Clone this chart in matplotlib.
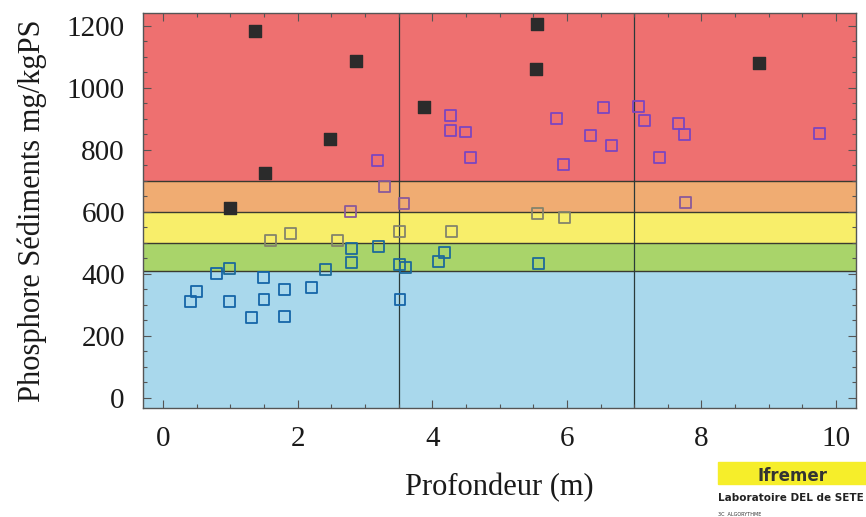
"""
Phosphore dans les sédiments en fonction de la profondeur — grille de qualité.
"""
import matplotlib
matplotlib.use("Agg")
import matplotlib.pyplot as plt
from matplotlib.patches import Rectangle

# ── data ──────────────────────────────────────────────────────────────────────
# filled black squares (stations hors classe)
black_x = [1.36, 2.86, 3.87, 2.48, 1.51, 1.00, 5.56, 5.54, 8.85]
black_y = [1185, 1087, 937, 835, 726, 613, 1207, 1060, 1079]

# open squares (all other stations)
open_x = [4.27, 4.27, 4.49, 4.57, 3.19, 3.29, 3.58, 2.78,
          6.55, 5.85, 6.35, 6.66, 5.95, 7.06, 7.15, 7.66, 7.75, 7.37, 9.75, 7.76,
          1.90, 1.59, 2.59, 3.51, 4.29, 5.57, 5.96,
          0.41, 0.49, 0.79, 0.99, 0.99, 1.31, 1.49, 1.50, 1.80, 1.80, 2.20,
          2.42, 2.80, 2.80, 3.20, 3.51, 3.60, 3.52, 4.09, 4.18, 5.58]
open_y = [912, 862, 858, 776, 765, 682, 626, 602,
          937, 900, 848, 813, 752, 941, 894, 885, 851, 776, 853, 631,
          530, 508, 508, 538, 537, 594, 583,
          310, 344, 402, 417, 312, 259, 390, 317, 350, 264, 356,
          415, 438, 483, 489, 431, 420, 318, 440, 470, 435]

# quality classes (lower bound, upper bound, colour)
band_edges = [-40, 410, 500, 600, 700, 1250]
band_colors = ["#a9d8ec", "#a9d46a", "#f8ee6a", "#f0ac72", "#ee7070"]
# marker tint seen through each band
marker_tints = ["#1565a8", "#1d6a9a", "#84846c", "#8a5a9a", "#7b45c0"]

depth_limits = [3.5, 7.0]


def tint_for(v):
    for lo, hi, c in zip(band_edges[:-1], band_edges[1:], marker_tints):
        if lo <= v < hi:
            return c
    return marker_tints[-1]


plt.rcParams["font.family"] = ["Liberation Serif", "DejaVu Serif"]

fig = plt.figure(figsize=(8.66, 5.17), dpi=100)
ax = fig.add_axes([0.165, 0.211, 0.823, 0.764])

xmin, xmax = -0.30, 10.29
ymin, ymax = -32, 1242

for lo, hi, c in zip(band_edges[:-1], band_edges[1:], band_colors):
    ax.axhspan(lo, hi, color=c, zorder=0, lw=0)
for b in band_edges[1:-1]:
    ax.axhline(b, color="#3a3a30", lw=1.0, zorder=1)
for d in depth_limits:
    ax.axvline(d, color="#2a3a3a", lw=0.9, zorder=1)

ax.scatter(open_x, open_y, marker="s", s=62, facecolors="none",
           edgecolors=[tint_for(v) for v in open_y], linewidths=1.3, zorder=3)
ax.scatter(black_x, black_y, marker="s", s=80, color="#2b2b2b", zorder=4)

ax.set_xlim(xmin, xmax)
ax.set_ylim(ymin, ymax)
ax.set_xticks(range(0, 11, 2))
ax.set_xticks([i * 0.5 for i in range(0, 21)], minor=True)
ax.set_yticks(range(0, 1201, 200))
ax.set_yticks(range(0, 1201, 50), minor=True)
ax.tick_params(which="both", direction="in", top=True, right=True,
               color="#555555", width=0.8)
ax.tick_params(which="major", length=6, labelsize=21, pad=13,
               labelcolor="#1a1a1a")
ax.tick_params(which="minor", length=3)
for s in ax.spines.values():
    s.set_color("#555555")
    s.set_linewidth(1.0)

ax.set_xlabel("Profondeur (m)", fontsize=22, labelpad=15, color="#1a1a1a")
ax.set_ylabel("Phosphore Sédiments mg/kgPS", fontsize=22, labelpad=14,
              color="#1a1a1a")

# Ifremer logo block
fig.patches.append(Rectangle((0.829, 0.064), 0.171, 0.043,
                             transform=fig.transFigure, color="#f6ee2a",
                             zorder=0))
fig.text(0.915, 0.070, "Ifremer", fontsize=12, fontweight="bold",
         family="DejaVu Sans", color="#333333", ha="center")
fig.text(0.829, 0.030, "Laboratoire DEL de SETE", fontsize=7.5,
         fontweight="bold", family="DejaVu Sans", color="#222222")
fig.text(0.829, 0.002, "3C  ALGORYTHME", fontsize=3.5, family="DejaVu Sans",
         color="#333333")

fig.savefig("out.png", dpi=100)
